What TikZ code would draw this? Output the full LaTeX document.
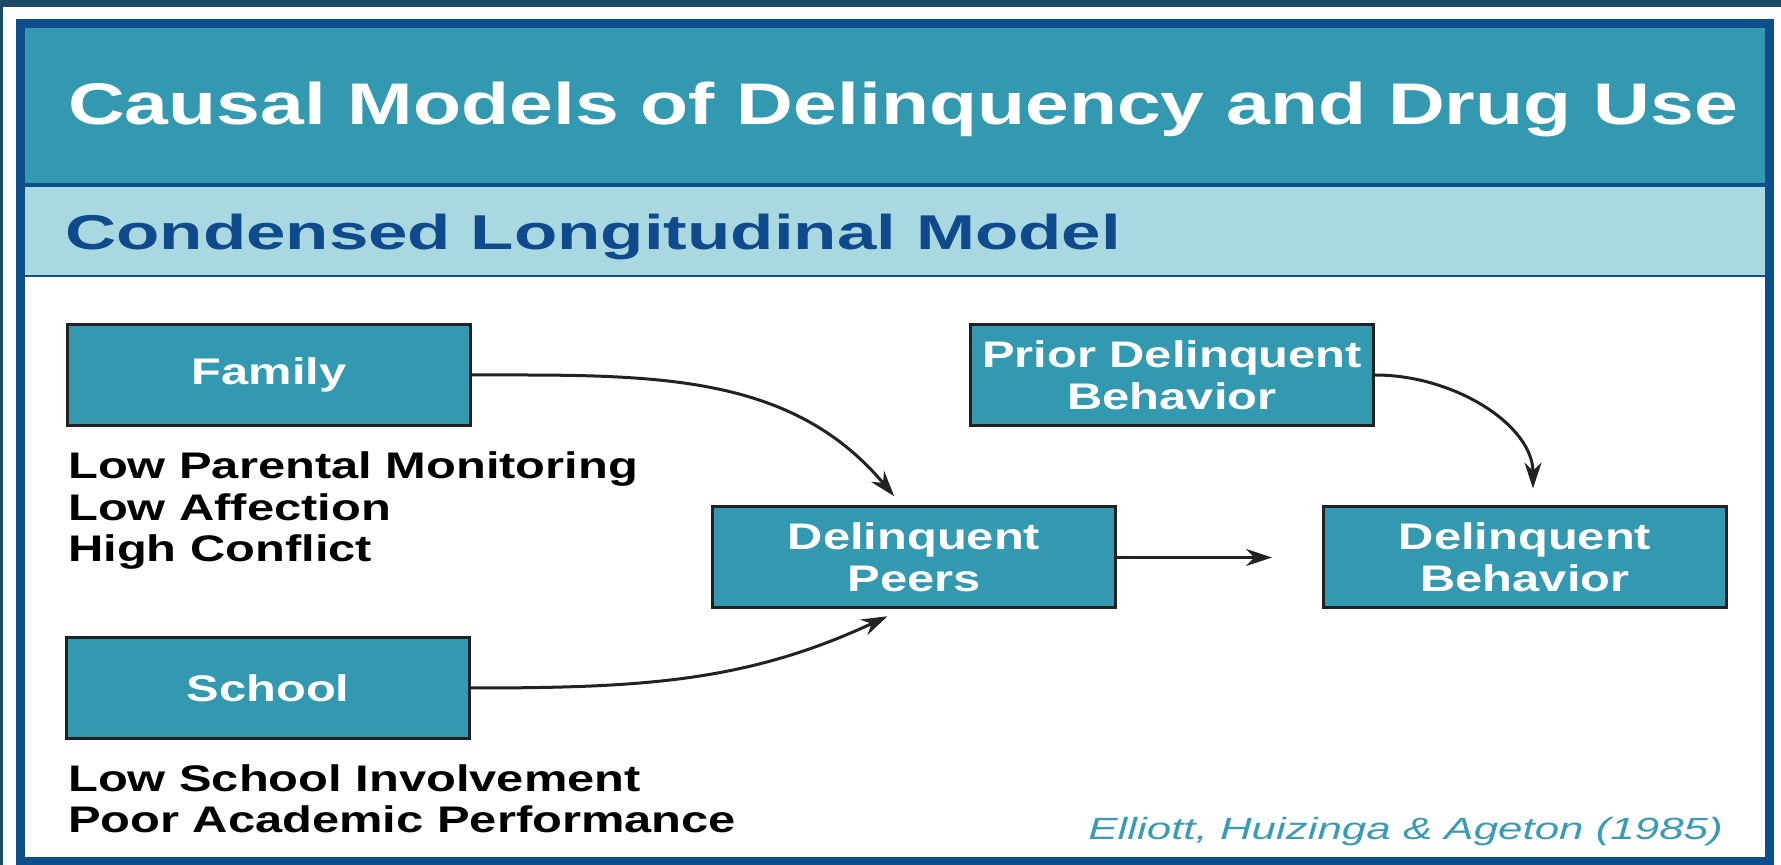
\documentclass[tikz,border=0pt]{standalone}
\usepackage{fontspec}
\setmainfont{Liberation Sans}
\newfontfamily\titlefont[FakeStretch=1.34]{Liberation Sans}
\newfontfamily\subfont[FakeStretch=1.45]{Liberation Sans}
\newfontfamily\boxfont[FakeStretch=1.32]{Liberation Sans}
\newfontfamily\citefont[FakeStretch=1.43]{Liberation Sans}
\usepackage{xcolor}
\usepackage{tikz}
\usetikzlibrary{arrows.meta}

\definecolor{tealband}{HTML}{3399B0}
\definecolor{lightband}{HTML}{A9D8E0}
\definecolor{frameblue}{HTML}{0C4F8B}
\definecolor{subblue}{HTML}{0E4A8C}
\definecolor{topdark}{HTML}{1B4B66}
\definecolor{citeteal}{HTML}{3A9BB5}
\definecolor{boxline}{HTML}{222222}

\tikzset{
    model/.style = {draw = boxline, line width = 3pt, fill = tealband,
        minimum width = 403pt, minimum height = 101pt, inner sep = 0pt,
        text = white, align = center,
        font = \boxfont\bfseries\fontsize{37}{42}\selectfont},
    factors/.style = {anchor = base west, inner sep = 0pt, align = left,
        font = \boxfont\bfseries\fontsize{37}{41.5}\selectfont},
    link/.style = {line width = 3pt, draw = boxline,
        -{Stealth[length = 26pt, width = 17pt]}}
}

\begin{document}
\begin{tikzpicture}[x = 1pt, y = 1pt]
    \useasboundingbox (0, 0) rectangle (1781, 865);
    \fill[white] (0, 0) rectangle (1781, 865);
    \fill[topdark] (0, 858) rectangle (1781, 865);
    \fill[topdark] (0, 0) rectangle (3, 865);

    \fill[tealband] (25, 682) rectangle (1765, 837);
    \fill[frameblue] (25, 678) rectangle (1765, 682);
    \fill[lightband] (25, 590) rectangle (1765, 678);
    \fill[frameblue] (25, 587.5) rectangle (1765, 590);
    \draw[frameblue, line width = 9pt] (20.5, 3) rectangle (1769, 841);

    \node (title) [anchor = base west, inner sep = 0pt, text = white,
        font = \titlefont\bfseries\fontsize{58.7}{60}\selectfont]
        at (68, 740) {Causal Models of Delinquency and Drug Use};
    \node (subtitle) [anchor = base west, inner sep = 0pt, text = subblue,
        font = \subfont\bfseries\fontsize{48.9}{50}\selectfont]
        at (65, 615) {Condensed Longitudinal Model};

    \node (family) [model] at (269, 490) {Family};
    \node (school) [model] at (268, 177) {School};
    \node (peers) [model] at (914, 307.5) {Delinquent\\Peers};
    \node (prior) [model] at (1172, 490) {Prior Delinquent\\Behavior};
    \node (behavior) [model] at (1525, 307.5) {Delinquent\\Behavior};

    \node (familyrisks) [factors] at (68, 303)
        {Low Parental Monitoring\\Low Affection\\High Conflict};
    \node (schoolrisks) [factors] at (68, 32)
        {Low School Involvement\\Poor Academic Performance};

    \node (source) [anchor = base east, inner sep = 0pt, text = citeteal,
        font = \citefont\itshape\fontsize{30.7}{32}\selectfont]
        at (1723, 25) {Elliott, Huizinga \& Ageton (1985)};

    \draw[link, shorten >= 12pt] (family.east) to[out = 0, in = 130] ([xshift = -12pt]peers.north);
    \draw[link, shorten >= 16pt] (school.east) to[out = 0, in = 205] ([xshift = -12pt]peers.south);
    \draw[link, shorten >= 50pt] (peers.east) -- (behavior.west);
    \draw[link, shorten >= 17pt] (prior.east) to[out = 0, in = 90] ([xshift = 8pt]behavior.north);
\end{tikzpicture}
\end{document}
